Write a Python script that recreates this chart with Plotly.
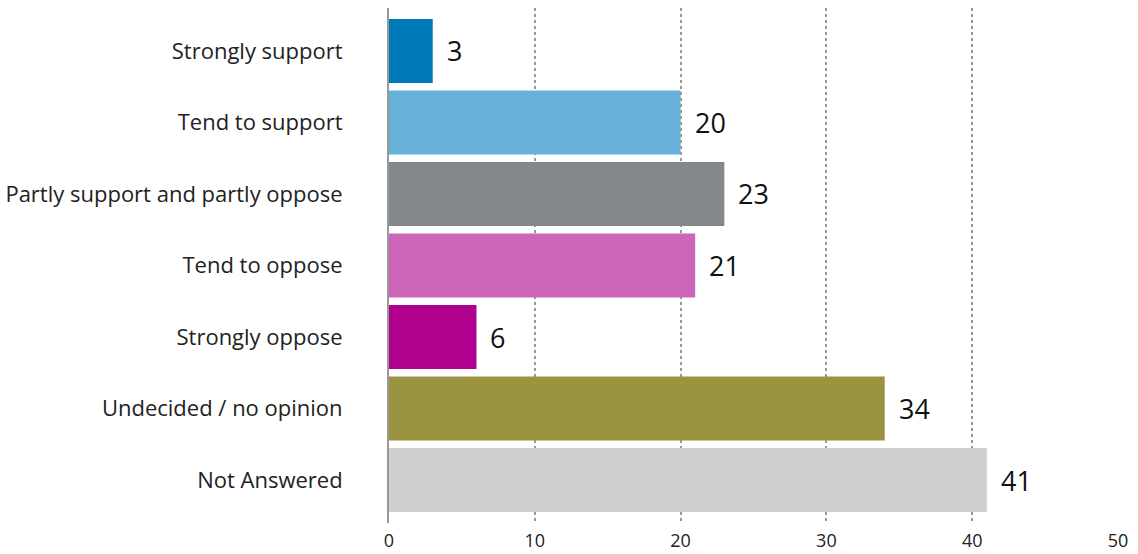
import plotly.graph_objects as go

categories = ["Strongly support", "Tend to support", "Partly support and partly oppose",
              "Tend to oppose", "Strongly oppose", "Undecided / no opinion", "Not Answered"]
values = [3, 20, 23, 21, 6, 34, 41]
colors = ["#0079b8", "#66b2d9", "#84888b", "#cc66b8", "#b0008e", "#9a9440", "#cdcfd1"]
tick_vals = [0, 10, 20, 30, 40, 50]

font_family = "Open Sans, Noto Sans, sans-serif"

fig = go.Figure()
fig.add_trace(go.Bar(
    x=values, y=categories, orientation="h",
    marker=dict(color=colors, line=dict(width=0)),
    hoverinfo="x+y",
))

for c, v in zip(categories, values):
    fig.add_annotation(x=v, y=c, text=str(v), showarrow=False,
                       xanchor="left", yanchor="middle", xshift=12,
                       font=dict(family=font_family, size=27, color="#111111"))

fig.update_layout(
    width=1138, height=554,
    margin=dict(l=389, r=20, t=8, b=31, autoexpand=False),
    paper_bgcolor="white", plot_bgcolor="white",
    bargap=0.105,
    showlegend=False,
    font=dict(family=font_family, color="#222222"),
)
fig.update_xaxes(
    range=[0, 50], tickvals=tick_vals, ticktext=[str(t) for t in tick_vals],
    showgrid=True, gridcolor="#999999", griddash="dot", gridwidth=1.5,
    zeroline=False, showline=False, ticks="", automargin=False,
    ticklabelstandoff=5,
    tickfont=dict(family=font_family, size=18, color="#222222"),
)
fig.update_yaxes(
    type="category", categoryorder="array", categoryarray=categories,
    range=[6.6, -0.6],
    showline=True, linecolor="#999999", linewidth=2,
    showgrid=False, zeroline=False, ticks="", automargin=False,
    ticklabelstandoff=40,
    tickfont=dict(family=font_family, size=22, color="#222222"),
)

fig.write_html("out.html")
